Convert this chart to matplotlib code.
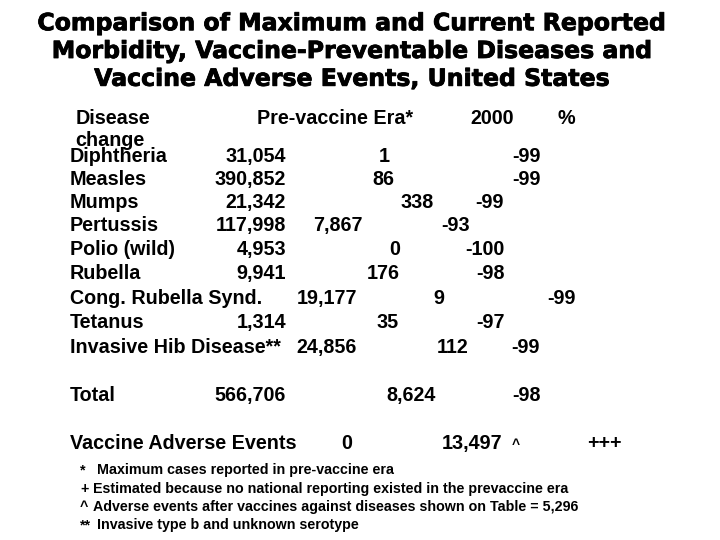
"""
Slide table: maximum vs current reported morbidity for vaccine-preventable
diseases, plus vaccine adverse events (United States).
"""

import matplotlib
matplotlib.use("Agg")
import matplotlib.pyplot as plt
import matplotlib.patheffects as pe

TITLE = ("Comparison of Maximum and Current Reported\n"
         "Morbidity, Vaccine-Preventable Diseases and\n"
         "Vaccine Adverse Events, United States")

diseases   = ["Diphtheria", "Measles", "Mumps", "Pertussis", "Polio (wild)",
              "Rubella", "Cong. Rubella Synd.", "Tetanus", "Invasive Hib Disease**"]
prevaccine = ["31,054", "390,852", "21,342", "117,998", "4,953",
              "9,941", "19,177", "1,314", "24,856"]
year_2000  = ["1", "86", "338", "7,867", "0", "176", "9", "35", "112"]
pct_change = ["-99", "-99", "-99", "-93", "-100", "-98", "-99", "-97", "-99"]

total_row   = ["Total", "566,706", "8,624", "-98"]
adverse_row = ["Vaccine Adverse Events", "0", "13,497", "+++"]

footnotes = [("*", "Maximum cases reported in pre-vaccine era"),
             ("+", "Estimated because no national reporting existed in the prevaccine era"),
             ("^", "Adverse events after vaccines against diseases shown on Table = 5,296"),
             ("**", "Invasive type b and unknown serotype")]

# layout (pixels on a 720x540 canvas, baselines) -- the slide's tab stops are ragged
row_y   = [162, 185, 208, 231, 255, 279, 304, 328, 353]
col1_x  = [286, 286, 286, 286, 286, 286, 357, 286, 357]
col2_x  = [390, 394, 434, 363, 400, 400, 444, 399, 469]
col3_x  = [541, 541, 504, 470, 505, 505, 576, 505, 540]

fig = plt.figure(figsize=(7.2, 5.4), dpi=100)
ax = fig.add_axes([0, 0, 1, 1])
ax.set_xlim(0, 720)
ax.set_ylim(540, 0)
ax.axis("off")

body = dict(family="Liberation Sans", fontweight="bold", fontsize=14.2, va="baseline")

ax.text(352, 51, TITLE, ha="center", va="center", family="DejaVu Sans",
        fontweight="heavy", fontsize=17, linespacing=1.2,
        path_effects=[pe.withStroke(linewidth=0.6, foreground="black")])

# header
ax.text(76, 124, "Disease", ha="left", **body)
ax.text(257, 124, "Pre-vaccine Era*", ha="left", **body)
ax.text(470, 124, "2000", ha="left", **body)
ax.text(558, 124, "%", ha="left", **body)
ax.text(75, 146, "change", ha="left", **body)

for i, name in enumerate(diseases):
    y = row_y[i]
    ax.text(70, y, name, ha="left", **body)
    ax.text(col1_x[i], y, prevaccine[i], ha="right", **body)
    ax.text(col2_x[i], y, year_2000[i], ha="right", **body)
    ax.text(col3_x[i], y, pct_change[i], ha="right", **body)

ax.text(70, 401, total_row[0], ha="left", **body)
ax.text(286, 401, total_row[1], ha="right", **body)
ax.text(436, 401, total_row[2], ha="right", **body)
ax.text(541, 401, total_row[3], ha="right", **body)

ax.text(70, 449, adverse_row[0], ha="left", **body)
ax.text(352, 449, adverse_row[1], ha="right", **body)
ax.text(502, 449, adverse_row[2], ha="right", **body)
ax.text(512, 449, "^", ha="left", family="Liberation Sans", fontweight="bold",
        fontsize=10, va="baseline")
ax.text(587, 449, adverse_row[3], ha="left", **body)

note = dict(family="Liberation Sans", fontweight="bold", fontsize=10.3, va="baseline")
for j, (mark, txt) in enumerate(footnotes):
    y = 474 + j * 18.5
    ax.text(80, y, mark, ha="left", **note)
    ax.text(97 if mark in ("*", "**") else 93, y, txt, ha="left", **note)

plt.savefig("out.png", dpi=100, facecolor="white")
plt.close()
